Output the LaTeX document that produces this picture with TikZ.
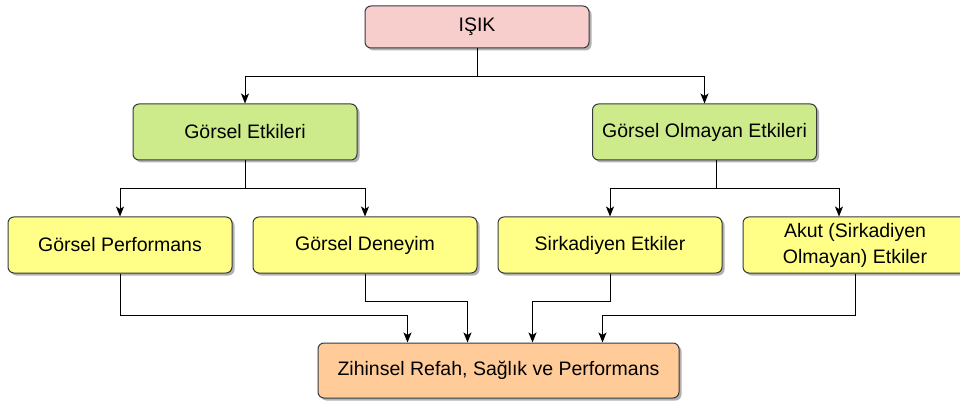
\documentclass[tikz,border=0pt]{standalone}
\usepackage{fontspec}
\setmainfont{Liberation Sans}
\usetikzlibrary{arrows.meta,calc,shadows}
\definecolor{isikfill}{HTML}{F8CECC}
\definecolor{etkifill}{HTML}{CDEB8B}
\definecolor{altfill}{HTML}{FFFF88}
\definecolor{sonfill}{HTML}{FFCC99}
\definecolor{kenar}{HTML}{36393D}
\tikzset{
  kutu/.style={draw=kenar,line width=1pt,rounded corners=6pt,minimum width=224pt,
    minimum height=56pt,align=center,inner sep=2pt,
    font=\fontsize{19.5}{26}\selectfont,
    drop shadow={shadow xshift=2.5pt,shadow yshift=-2.5pt,opacity=0.3,fill=black}},
}
\begin{document}
\begin{tikzpicture}[x=1pt,y=-1pt,->,>={Stealth[length=10pt,width=8pt,inset=2.5pt]},line width=1pt]
        \useasboundingbox (0,0) rectangle (960,403);
        \node[kutu,fill=isikfill,minimum height=42pt] (ISIK) at (477,27) {IŞIK};
        \node[kutu,fill=etkifill] (GE) at (245,132) {Görsel Etkileri};
        \node[kutu,fill=etkifill] (GOE) at (704.5,132) {Görsel Olmayan Etkileri};
        \node[kutu,fill=altfill] (GP) at (120,245) {Görsel Performans};
        \node[kutu,fill=altfill] (GD) at (365,245) {Görsel Deneyim};
        \node[kutu,fill=altfill] (SE) at (610,245) {Sirkadiyen Etkiler};
        \node[kutu,fill=altfill] (AE) at (855,245) {Akut (Sirkadiyen\\Olmayan) Etkiler};
        \node[kutu,fill=sonfill,minimum width=361pt,minimum height=55pt] (ZR) at (498.5,370.5) {Zihinsel Refah, Sağlık ve Performans};
        % ust seviye
        \draw (ISIK.south) -- ++(0,28) -| (GE.north);
        \draw (ISIK.south) -- ++(0,28) -| (GOE.north);
        % gorsel
        \draw (GE.south) -- ++(0,28) -| (GP.north);
        \draw (GE.south) -- ++(0,28) -| (GD.north);
        % gorsel olmayan
        \draw ($(GOE.south)+(12,0)$) -- ++(0,28) -| (SE.north);
        \draw ($(GOE.south)+(12,0)$) -- ++(0,28) -| ($(AE.north)+(-16,0)$);
        % sonuc
        \draw (GP.south) -- ++(0,42) -| ($(ZR.north west)+(90,0)$);
        \draw (GD.south) -- ++(0,28) -| ($(ZR.north west)+(150,0)$);
        \draw (SE.south) -- ++(0,28) -| ($(ZR.north west)+(215,0)$);
        \draw (AE.south) -- ++(0,42) -| ($(ZR.north west)+(285,0)$);
\end{tikzpicture}
\end{document}
